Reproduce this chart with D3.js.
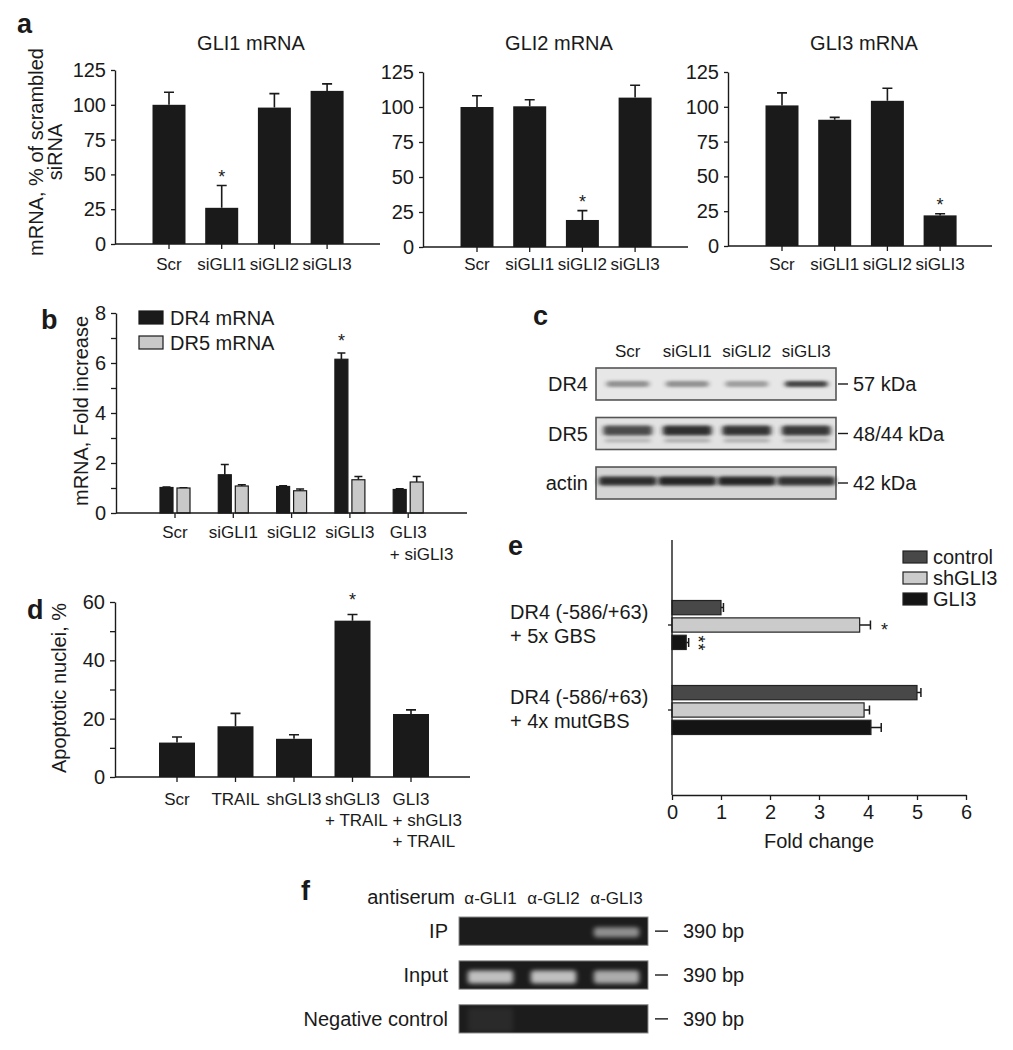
<!DOCTYPE html>
<html><head><meta charset="utf-8">
<script src="https://cdn.jsdelivr.net/npm/d3@7"></script>
<style>
html,body{margin:0;padding:0;background:#fff;}
svg{display:block;}
text{font-family:"Liberation Sans",Arial,Helvetica,sans-serif;fill:#1a1a1a;}
</style></head><body>
<svg id="fig" width="1013" height="1050"></svg>
<script>
// ================= DATA =================
// Panel a
const aCategories = ["Scr", "siGLI1", "siGLI2", "siGLI3"];
const aTitles = ["GLI1 mRNA", "GLI2 mRNA", "GLI3 mRNA"];
const aTicks = [0, 25, 50, 75, 100, 125];
const gli1Mean = [100, 26, 98, 110];
const gli1Err = [9, 16, 10, 5];
const gli2Mean = [100, 100.5, 19.3, 106.7];
const gli2Err = [8, 4.7, 6.7, 8.8];
const gli3Mean = [101, 90.7, 104.3, 22];
const gli3Err = [9, 1.7, 9, 1.2];
const aStars = ["siGLI1", "siGLI2", "siGLI3"];
const aYLabel = ["mRNA, % of scrambled", "siRNA"];

// Panel b
const bCategories = [["Scr"], ["siGLI1"], ["siGLI2"], ["siGLI3"], ["GLI3", "+ siGLI3"]];
const bSeries = ["DR4 mRNA", "DR5 mRNA"];
const dr4Mean = [1.02, 1.53, 1.06, 6.15, 0.94];
const dr4Err = [0.02, 0.41, 0.03, 0.25, 0.03];
const dr5Mean = [1.0, 1.08, 0.89, 1.33, 1.24];
const dr5Err = [0.01, 0.05, 0.07, 0.13, 0.22];
const bTicks = [0, 1, 2, 3, 4, 5, 6, 7, 8];
const bTickLabels = [0, 2, 4, 6, 8];
const bStar = "siGLI3";
const bYLabel = "mRNA, Fold increase";

// Panel c (western blot)
const blotLanes = ["Scr", "siGLI1", "siGLI2", "siGLI3"];
const blotRows = ["DR4", "DR5", "actin"];
const blotSizes = ["57 kDa", "48/44 kDa", "42 kDa"];
const dr4Band = [0.45, 0.45, 0.38, 0.85];
const dr5Band = [0.8, 0.95, 0.92, 0.9];
const actinBand = [0.95, 1, 1, 0.92];

// Panel d
const dCategories = [["Scr"], ["TRAIL"], ["shGLI3"], ["shGLI3", "+ TRAIL"], ["GLI3", "+ shGLI3", "+ TRAIL"]];
const dMean = [11.8, 17.4, 13.1, 53.6, 21.6];
const dErr = [1.9, 4.4, 1.4, 2.1, 1.4];
const dTicks = [0, 10, 20, 30, 40, 50, 60];
const dTickLabels = [0, 20, 40, 60];
const dStar = 3;
const dYLabel = "Apoptotic nuclei, %";

// Panel e
const eGroups = [["DR4 (-586/+63)", "+ 5x GBS"], ["DR4 (-586/+63)", "+ 4x mutGBS"]];
const eSeries = ["control", "shGLI3", "GLI3"];
const eControl = [1.0, 5.0];
const eControlErr = [0.05, 0.08];
const eSh = [3.83, 3.92];
const eShErr = [0.22, 0.11];
const eGli3 = [0.29, 4.06];
const eGli3Err = [0.05, 0.21];
const eStars = [["", ""], ["*", ""], ["**", ""]];
const eTicks = [0, 1, 2, 3, 4, 5, 6];
const eXLabel = "Fold change";

// Panel f (ChIP gel)
const gelHeader = "antiserum";
const gelLanes = ["α-GLI1", "α-GLI2", "α-GLI3"];
const gelRows = ["IP", "Input", "Negative control"];
const gelSize = "390 bp";
const ipBand = [0, 0, 0.6];
const inputBand = [0.85, 0.85, 0.75];
const negBand = [0.07, 0, 0];

// ================= DRAWING =================
const svg = d3.select("#fig");
const INK = "#1a1a1a";
const defs = svg.append("defs");
defs.append("filter").attr("id", "blurBlot").attr("x", "-30%").attr("y", "-150%").attr("width", "160%").attr("height", "400%")
  .append("feGaussianBlur").attr("stdDeviation", "2.5 1.6");
defs.append("filter").attr("id", "blurGel").attr("x", "-30%").attr("y", "-150%").attr("width", "160%").attr("height", "400%")
  .append("feGaussianBlur").attr("stdDeviation", "2.6 2");

function txt(g, x, y, s, size, anchor = "start", weight = "normal") {
  return g.append("text").attr("x", x).attr("y", y).attr("font-size", size)
    .attr("text-anchor", anchor).attr("font-weight", weight).text(s);
}
function rotLabel(g, x, cy, s, size) {
  return g.append("text").attr("transform", `translate(${x},${cy}) rotate(-90)`)
    .attr("text-anchor", "middle").attr("font-size", size).text(s);
}
function multiLabel(g, cx, y, lines, size, lh) {
  const first = txt(g, cx, y, lines[0], size, "middle");
  const w = first.node().getComputedTextLength();
  lines.slice(1).forEach((s, i) => txt(g, cx - w / 2, y + lh * (i + 1), s, size, "start"));
}
function yAxis(g, y, x, ticks, labeled, fs, size) {
  const ax = d3.axisLeft(y).tickValues(ticks).tickSize(size).tickSizeOuter(0).tickPadding(5)
    .tickFormat(d => labeled.includes(d) ? d : "");
  const a = g.append("g").attr("transform", `translate(${x},0)`).call(ax).attr("font-size", fs);
  a.select(".domain").attr("stroke", INK).attr("stroke-width", 1.4);
  a.selectAll(".tick line").attr("stroke", INK).attr("stroke-width", 1.3);
  return a;
}
function vErr(g, cx, yMean, yTop, capW) {
  g.append("path").attr("d", `M${cx},${yMean}V${yTop}M${cx - capW / 2},${yTop}H${cx + capW / 2}`)
    .attr("stroke", INK).attr("stroke-width", 1.6).attr("fill", "none");
}
function star(g, cx, cy, s, size) {
  txt(g, cx, cy + 0.57 * size, s, size, "middle");
}

// ---------- Panel a ----------
txt(svg, 17, 33, "a", 27, "start", "bold");
const aData = [[gli1Mean, gli1Err], [gli2Mean, gli2Err], [gli3Mean, gli3Err]];
const aLayout = [
  { ax: 115, end: 380, y0: 244, top: 70 },
  { ax: 423, end: 688, y0: 247, top: 72 },
  { ax: 728, end: 992, y0: 246, top: 72 }];
aLayout.forEach((L, k) => {
  const g = svg.append("g");
  const [mean, err] = aData[k];
  const y = d3.scaleLinear().domain([0, 125]).range([L.y0, L.top]);
  const step = 52.7, first = 54;
  const x = d3.scaleBand().domain(aCategories)
    .range([L.ax + first - step / 2, L.ax + first - step / 2 + step * aCategories.length])
    .paddingInner(0.374).paddingOuter(0.187);
  const cx = c => x(c) + x.bandwidth() / 2;
  aCategories.forEach((c, i) => vErr(g, cx(c), y(mean[i]), y(mean[i] + err[i]), 10));
  g.selectAll("rect.bar").data(aCategories).join("rect").attr("class", "bar")
    .attr("x", c => x(c)).attr("width", x.bandwidth())
    .attr("y", (c, i) => y(mean[i])).attr("height", (c, i) => L.y0 - y(mean[i])).attr("fill", INK);
  const xa = g.append("g").attr("transform", `translate(0,${L.y0})`)
    .call(d3.axisBottom(x).tickSize(5).tickSizeOuter(0).tickFormat(""));
  xa.select(".domain").remove();
  xa.selectAll(".tick line").attr("stroke", INK).attr("stroke-width", 1.3);
  g.append("line").attr("x1", L.ax).attr("x2", L.end).attr("y1", L.y0).attr("y2", L.y0)
    .attr("stroke", INK).attr("stroke-width", 1.4);
  yAxis(g, y, L.ax, aTicks, aTicks, 20, 4);
  aCategories.forEach(c => txt(g, cx(c), 270, c, 17, "middle"));
  txt(g, L.ax + 136, 50, aTitles[k], 20, "middle");
  const si = aCategories.indexOf(aStars[k]);
  star(g, cx(aStars[k]), y(mean[si] + err[si]) - 13, "*", 18);
});
rotLabel(svg, 43, 152, aYLabel[0], 20);
rotLabel(svg, 62, 152, aYLabel[1], 20);

// ---------- Panel b ----------
{
  const g = svg.append("g");
  txt(g, 41, 329, "b", 27, "start", "bold");
  const ax = 116, y0 = 513;
  const y = d3.scaleLinear().domain([0, 8]).range([y0, 313]);
  const keys = bCategories.map(d => d.join(" "));
  const step = 58.3, first = 59;
  const x = d3.scaleBand().domain(keys).range([ax + first - step / 2, ax + first - step / 2 + step * keys.length]);
  const xi = d3.scaleBand().domain(bSeries).range([step / 2 - 15, step / 2 + 15]).paddingInner(0.235);
  const series = [
    { name: bSeries[0], mean: dr4Mean, err: dr4Err, fill: INK },
    { name: bSeries[1], mean: dr5Mean, err: dr5Err, fill: "#c9c9c9" }];
  series.forEach(s => {
    keys.forEach((k, i) => vErr(g, x(k) + xi(s.name) + xi.bandwidth() / 2, y(s.mean[i]), y(s.mean[i] + s.err[i]), 8));
    g.selectAll(null).data(keys).join("rect")
      .attr("x", k => x(k) + xi(s.name)).attr("width", xi.bandwidth())
      .attr("y", (k, i) => y(s.mean[i])).attr("height", (k, i) => y0 - y(s.mean[i]))
      .attr("fill", s.fill).attr("stroke", INK).attr("stroke-width", 1.2);
  });
  const xa = g.append("g").attr("transform", `translate(0,${y0})`)
    .call(d3.axisBottom(x).tickSize(5).tickSizeOuter(0).tickFormat(""));
  xa.select(".domain").remove();
  xa.selectAll(".tick line").attr("stroke", INK).attr("stroke-width", 1.3);
  g.append("line").attr("x1", ax).attr("x2", 467).attr("y1", y0).attr("y2", y0).attr("stroke", INK).attr("stroke-width", 1.4);
  yAxis(g, y, ax, bTicks, bTickLabels, 20, 5);
  bCategories.forEach((lines, i) => multiLabel(g, x(keys[i]) + step / 2, 538, lines, 17, 22));
  rotLabel(g, 88, 411, bYLabel, 20);
  const si = keys.indexOf(bStar);
  star(g, x(bStar) + xi(bSeries[0]) + xi.bandwidth() / 2, y(dr4Mean[si] + dr4Err[si]) - 16, "*", 18);
  // legend
  const lg = g.selectAll("g.leg").data(series).join("g").attr("class", "leg")
    .attr("transform", (d, i) => `translate(139,${311 + i * 25})`);
  lg.append("rect").attr("width", 24).attr("height", 13).attr("fill", d => d.fill).attr("stroke", INK).attr("stroke-width", 1.2);
  lg.append("text").attr("x", 31).attr("y", 14).attr("font-size", 20).text(d => d.name);
}

// ---------- Panel c ----------
{
  const g = svg.append("g");
  txt(g, 533, 325, "c", 27, "start", "bold");
  const lane = d3.scaleBand().domain(blotLanes).range([598, 836]);
  const row = d3.scaleBand().domain(blotRows).range([368, 499]).paddingInner(0.354);
  const boxL = 596, boxR = 836;
  blotLanes.forEach(l => txt(g, lane(l) + lane.bandwidth() / 2, 357, l, 17, "middle"));
  const rowStyle = {
    DR4: { data: dr4Band, bg: "#e7e7e7", w: 0.72, h: 6, dy: 0 },
    DR5: { data: dr5Band, bg: "#e2e2e2", w: 0.82, h: 10, dy: -3 },
    actin: { data: actinBand, bg: "#d5d5d5", w: 0.97, h: 9, dy: -2 }
  };
  blotRows.forEach((r, ri) => {
    const st = rowStyle[r];
    const top = row(r), h = row.bandwidth(), cy = top + h / 2;
    g.append("rect").attr("x", boxL).attr("y", top).attr("width", boxR - boxL).attr("height", h)
      .attr("fill", st.bg).attr("stroke", "#555").attr("stroke-width", 1.6);
    g.selectAll(null).data(blotLanes).join("rect")
      .attr("x", l => lane(l) + lane.bandwidth() * (1 - st.w) / 2)
      .attr("y", cy + st.dy - st.h / 2).attr("width", lane.bandwidth() * st.w).attr("height", st.h)
      .attr("rx", 3).attr("fill", "#262626").attr("opacity", (l, i) => st.data[i])
      .attr("filter", "url(#blurBlot)");
    if (r === "DR5") {
      g.selectAll(null).data(blotLanes).join("rect")
        .attr("x", l => lane(l) + lane.bandwidth() * 0.12).attr("y", cy + 5)
        .attr("width", lane.bandwidth() * 0.76).attr("height", 4)
        .attr("fill", "#2c2c2c").attr("opacity", (l, i) => st.data[i] * 0.3).attr("filter", "url(#blurBlot)");
    }
    txt(g, 588, cy + 7, r, 20, "end");
    g.append("line").attr("x1", 838).attr("x2", 848).attr("y1", cy).attr("y2", cy).attr("stroke", INK).attr("stroke-width", 1.4);
    txt(g, 853, cy + 7, blotSizes[ri], 20);
  });
}

// ---------- Panel d ----------
{
  const g = svg.append("g");
  txt(g, 27, 619, "d", 27, "start", "bold");
  const ax = 115, y0 = 777;
  const y = d3.scaleLinear().domain([0, 60]).range([y0, 602]);
  const keys = dCategories.map(d => d.join(" "));
  const step = 58.5, first = 62;
  const x = d3.scaleBand().domain(keys).range([ax + first - step / 2, ax + first - step / 2 + step * keys.length])
    .paddingInner(0.385).paddingOuter(0.1925);
  const cx = k => x(k) + x.bandwidth() / 2;
  keys.forEach((k, i) => vErr(g, cx(k), y(dMean[i]), y(dMean[i] + dErr[i]), 10));
  g.selectAll(null).data(keys).join("rect")
    .attr("x", k => x(k)).attr("width", x.bandwidth())
    .attr("y", (k, i) => y(dMean[i])).attr("height", (k, i) => y0 - y(dMean[i])).attr("fill", INK);
  const xa = g.append("g").attr("transform", `translate(0,${y0})`)
    .call(d3.axisBottom(x).tickSize(5).tickSizeOuter(0).tickFormat(""));
  xa.select(".domain").remove();
  xa.selectAll(".tick line").attr("stroke", INK).attr("stroke-width", 1.3);
  g.append("line").attr("x1", ax).attr("x2", 470).attr("y1", y0).attr("y2", y0).attr("stroke", INK).attr("stroke-width", 1.4);
  yAxis(g, y, ax, dTicks, dTickLabels, 20, 5);
  dCategories.forEach((lines, i) => multiLabel(g, cx(keys[i]), 805, lines, 17, 21));
  rotLabel(g, 66, 688, dYLabel, 20);
  star(g, cx(keys[dStar]), y(dMean[dStar] + dErr[dStar]) - 19, "*", 18);
}

// ---------- Panel e ----------
{
  const g = svg.append("g");
  txt(g, 508, 555, "e", 27, "start", "bold");
  const x = d3.scaleLinear().domain([0, 6]).range([672, 966]);
  const keys = eGroups.map(d => d.join(" "));
  const yg = d3.scaleBand().domain(keys).range([582.5, 752.5]);
  const yi = d3.scaleBand().domain(eSeries).range([18, 67]).paddingInner(0.18);
  const series = [
    { name: eSeries[0], v: eControl, e: eControlErr, fill: "#484848", stars: eStars[0] },
    { name: eSeries[1], v: eSh, e: eShErr, fill: "#cbcbcb", stars: eStars[1] },
    { name: eSeries[2], v: eGli3, e: eGli3Err, fill: "#141414", stars: eStars[2] }];
  series.forEach(s => {
    keys.forEach((k, i) => {
      const cy = yg(k) + yi(s.name) + yi.bandwidth() / 2;
      const xe = x(s.v[i] + s.e[i]);
      g.append("path").attr("d", `M${x(s.v[i])},${cy}H${xe}M${xe},${cy - 4.5}V${cy + 4.5}`)
        .attr("stroke", INK).attr("stroke-width", 1.5).attr("fill", "none");
      const st = s.stars[i];
      if (st.length === 1) {
        star(g, xe + 14, cy + 1, st, 18);
      } else if (st.length > 1) {
        // stacked asterisks drawn as one vertical text run
        g.append("text").attr("font-size", 18).attr("text-anchor", "middle").attr("letter-spacing", 1)
          .attr("transform", `translate(${xe + 14 - 0.57 * 18},${cy + 1}) rotate(90)`).text(st);
      }
    });
    g.selectAll(null).data(keys).join("rect")
      .attr("x", x(0)).attr("y", k => yg(k) + yi(s.name))
      .attr("width", (k, i) => x(s.v[i]) - x(0)).attr("height", yi.bandwidth())
      .attr("fill", s.fill).attr("stroke", "#222").attr("stroke-width", 1.2);
  });
  // axes
  const xa = g.append("g").attr("transform", "translate(0,795)")
    .call(d3.axisBottom(x).tickValues(eTicks).tickFormat(d3.format("d")).tickSize(5).tickSizeOuter(0).tickPadding(5)).attr("font-size", 20);
  xa.select(".domain").attr("stroke", INK).attr("stroke-width", 1.4);
  xa.selectAll(".tick line").attr("stroke", INK).attr("stroke-width", 1.3);
  g.append("line").attr("x1", 672).attr("x2", 672).attr("y1", 540).attr("y2", 795).attr("stroke", INK).attr("stroke-width", 1.4);
  const ya = g.append("g").attr("transform", "translate(672,0)")
    .call(d3.axisLeft(yg).tickSize(4).tickSizeOuter(0).tickFormat(""));
  ya.select(".domain").remove();
  ya.selectAll(".tick line").attr("stroke", INK).attr("stroke-width", 1.3);
  eGroups.forEach((lines, i) => {
    const c = yg(keys[i]) + yg.bandwidth() / 2;
    txt(g, 510, c - 6, lines[0], 20);
    txt(g, 510, c + 18, lines[1], 20);
  });
  txt(g, 819, 848, eXLabel, 20, "middle");
  const lg = g.selectAll("g.legE").data(series).join("g").attr("class", "legE")
    .attr("transform", (d, i) => `translate(903,${551 + i * 21})`);
  lg.append("rect").attr("width", 24).attr("height", 12).attr("fill", d => d.fill).attr("stroke", "#222").attr("stroke-width", 1.2);
  lg.append("text").attr("x", 30).attr("y", 13).attr("font-size", 20).text(d => d.name);
}

// ---------- Panel f ----------
{
  const g = svg.append("g");
  txt(g, 301, 900, "f", 27, "start", "bold");
  const lane = d3.scaleBand().domain(gelLanes).range([459, 648]);
  const row = d3.scaleBand().domain(gelRows).range([917, 1033]).paddingInner(0.356);
  txt(g, 455, 904, gelHeader, 20, "end");
  gelLanes.forEach(l => txt(g, lane(l) + lane.bandwidth() / 2, 904, l, 17, "middle"));
  const rowData = { "IP": ipBand, "Input": inputBand, "Negative control": negBand };
  gelRows.forEach(r => {
    const top = row(r), h = row.bandwidth(), cy = top + h / 2;
    g.append("rect").attr("x", 459).attr("y", top).attr("width", 189).attr("height", h)
      .attr("fill", "#1c1c1c").attr("stroke", "#8c8c8c").attr("stroke-width", 1);
    const bh = r === "Negative control" ? h - 4 : (r === "Input" ? 13 : 10);
    g.selectAll(null).data(gelLanes).join("rect")
      .attr("x", l => lane(l) + lane.bandwidth() * 0.14).attr("width", lane.bandwidth() * 0.72)
      .attr("y", cy - bh / 2 + (r === "Input" ? 2 : 1)).attr("height", bh).attr("rx", 3)
      .attr("fill", "#dcdcdc").attr("opacity", (l, i) => rowData[r][i]).attr("filter", "url(#blurGel)");
    txt(g, 448, cy + 7, r, 20, "end");
    g.append("line").attr("x1", 655).attr("x2", 668).attr("y1", cy).attr("y2", cy).attr("stroke", INK).attr("stroke-width", 1.4);
    txt(g, 683, cy + 7, gelSize, 20);
  });
}
</script></body></html>
